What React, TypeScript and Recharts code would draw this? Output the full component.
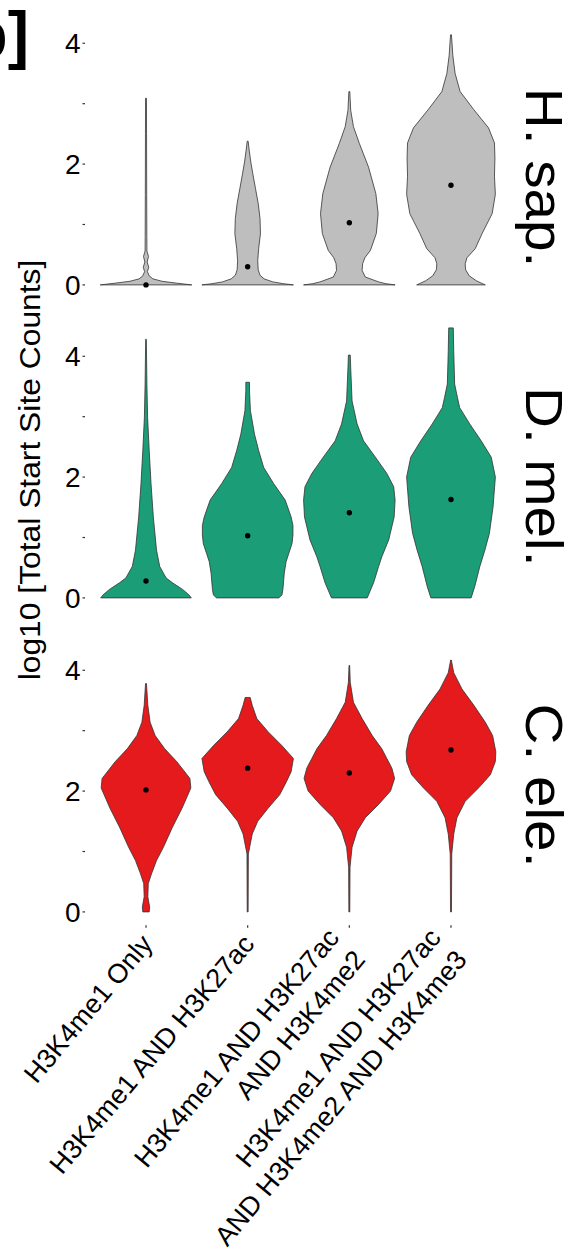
import React from 'react';
import { ScatterChart, Scatter, XAxis, YAxis } from 'recharts';

const CATEGORIES = [
  'H3K4me1 Only',
  'H3K4me1 AND H3K27ac',
  'H3K4me1 AND H3K27ac\nAND H3K4me2',
  'H3K4me1 AND H3K27ac\nAND H3K4me2 AND H3K4me3',
];

const SPECIES = ['H. sap.', 'D. mel.', 'C. ele.'];

// Violin outlines: [log10 count, half width relative to the widest violin]
const hsapOnly = [[0, 1.0], [0.03, 0.66], [0.06, 0.35], [0.1, 0.15], [0.15, 0.07], [0.22, 0.03], [0.29, 0.06], [0.38, 0.025], [0.47, 0.055], [0.56, 0.02], [0.8, 0.018], [1.5, 0.015], [2.5, 0.012], [3.09, 0.01]];
const hsapK27 = [[0, 1.0], [0.02, 0.78], [0.05, 0.55], [0.1, 0.36], [0.16, 0.27], [0.25, 0.23], [0.4, 0.22], [0.6, 0.24], [0.85, 0.28], [1.1, 0.27], [1.35, 0.23], [1.6, 0.17], [1.85, 0.11], [2.05, 0.065], [2.25, 0.03], [2.38, 0.01]];
const hsapK27Me2 = [[0, 1.0], [0.02, 0.8], [0.05, 0.64], [0.13, 0.35], [0.24, 0.28], [0.35, 0.29], [0.45, 0.34], [0.57, 0.46], [0.85, 0.59], [1.18, 0.63], [1.51, 0.58], [1.95, 0.42], [2.34, 0.22], [2.62, 0.09], [2.89, 0.03], [3.2, 0.01]];
const hsapAll = [[0, 0.75], [0.03, 0.66], [0.07, 0.55], [0.15, 0.4], [0.25, 0.32], [0.35, 0.31], [0.45, 0.35], [0.6, 0.53], [0.85, 0.68], [1.18, 0.9], [1.5, 0.97], [1.8, 0.95], [2.1, 0.96], [2.35, 0.95], [2.6, 0.82], [2.9, 0.5], [3.2, 0.2], [3.5, 0.09], [3.8, 0.04], [4.14, 0.01]];

const dmelOnly = [[0, 0.99], [0.05, 0.94], [0.14, 0.8], [0.25, 0.58], [0.33, 0.44], [0.52, 0.3], [0.79, 0.23], [1.34, 0.16], [1.89, 0.11], [2.44, 0.07], [2.99, 0.035], [3.54, 0.02], [4.28, 0.007]];
const dmelK27 = [[0, 0.68], [0.05, 0.75], [0.14, 0.77], [0.41, 0.8], [0.6, 0.84], [0.74, 0.9], [0.9, 0.97], [1.04, 0.99], [1.2, 0.99], [1.34, 0.95], [1.62, 0.82], [1.89, 0.57], [2.16, 0.35], [2.44, 0.24], [2.71, 0.15], [3.1, 0.06], [3.43, 0.04], [3.57, 0.04]];
const dmelK27Me2 = [[0, 0.39], [0.25, 0.53], [0.52, 0.64], [0.68, 0.71], [0.96, 0.86], [1.34, 0.98], [1.62, 1.0], [1.84, 0.97], [2.06, 0.82], [2.33, 0.57], [2.6, 0.31], [2.88, 0.17], [3.26, 0.06], [3.81, 0.03], [4.02, 0.02]];
const dmelAll = [[0, 0.44], [0.19, 0.52], [0.52, 0.63], [0.79, 0.74], [1.07, 0.84], [1.51, 0.92], [2.0, 0.97], [2.33, 0.88], [2.6, 0.66], [2.88, 0.41], [3.15, 0.19], [3.32, 0.14], [3.54, 0.08], [4.08, 0.06], [4.47, 0.05]];

const celeOnly = [[0, 0.07], [0.08, 0.08], [0.25, 0.04], [0.47, 0.05], [0.63, 0.12], [0.85, 0.23], [1.07, 0.38], [1.39, 0.57], [1.72, 0.79], [2.05, 0.98], [2.21, 0.96], [2.49, 0.67], [2.7, 0.41], [2.92, 0.2], [3.14, 0.09], [3.42, 0.04], [3.78, 0.01]];
const celeK27 = [[0, 0.01], [0.96, 0.015], [1.29, 0.1], [1.5, 0.22], [1.72, 0.45], [1.94, 0.7], [2.16, 0.85], [2.32, 0.95], [2.54, 1.0], [2.76, 0.74], [2.98, 0.45], [3.2, 0.2], [3.42, 0.1], [3.55, 0.055]];
const celeK27Me2 = [[0, 0.01], [0.74, 0.015], [1.07, 0.06], [1.34, 0.17], [1.56, 0.35], [1.78, 0.64], [2.0, 0.9], [2.21, 0.99], [2.38, 0.93], [2.54, 0.82], [2.7, 0.71], [2.92, 0.5], [3.2, 0.28], [3.47, 0.09], [3.8, 0.02], [4.08, 0.007]];
const celeAll = [[0, 0.01], [0.96, 0.017], [1.29, 0.06], [1.56, 0.13], [1.83, 0.31], [2.05, 0.6], [2.27, 0.86], [2.49, 0.97], [2.65, 0.98], [2.92, 0.91], [3.14, 0.75], [3.42, 0.5], [3.69, 0.24], [3.96, 0.06], [4.17, 0.007]];

const HSAP_MEDIANS = [0, 0.3, 1.03, 1.65];
const DMEL_MEDIANS = [0.28, 1.03, 1.41, 1.63];
const CELE_MEDIANS = [2.02, 2.38, 2.3, 2.68];

const FONT = '"Liberation Sans", Arial, Helvetica, sans-serif';
const HALF_WIDTH = 0.45; // widest violin spans 0.9 of a category
const CHART_W = 573;
const CHART_H = 1258;
const PLOT_LEFT = 85;
const PLOT_RIGHT = 512;
const PLOT_H = 297.2;
const PAD_TOP = 6;
const LABEL_ANGLE = 50;
const LABEL_SIZE = 27;
const LABEL_LINE = 34;
const STRIP_SIZE = 52;

type Profile = number[][];

// closed outline: right edge going up, left edge coming back down
const outline = (profile: Profile, pos: number) => {
  const right = profile.map(([v, w]) => ({ x: pos + w * HALF_WIDTH, y: v }));
  const left = [...profile].reverse().map(([v, w]) => ({ x: pos - w * HALF_WIDTH, y: v }));
  return [...right, ...left];
};

const NoPoint = () => <g />;
const MedianDot = (props: any) => <circle cx={props.cx} cy={props.cy} r={2.7} fill="#000" />;

// rotated, right-aligned category label; multi-line labels are centred on the tick
const XLabel = (props: any) => {
  const { x, y, payload } = props;
  const lines = CATEGORIES[payload.value - 1].split('\n');
  const mid = (lines.length - 1) / 2;
  const shift = lines.length > 1 ? -6 : 0;
  return (
    <g transform={`translate(${x + 8},${y + 17}) rotate(-${LABEL_ANGLE})`}>
      <text textAnchor="end" fontSize={LABEL_SIZE} fill="#000" fontFamily={FONT}>
        {lines.map((line, i) => (
          <tspan key={i} x={shift} y={(i - mid) * LABEL_LINE}>
            {line}
          </tspan>
        ))}
      </text>
    </g>
  );
};

interface PanelProps {
  profiles: Profile[];
  medians: number[];
  fill: string;
  top: number;
  showLabels?: boolean;
}

const Panel: React.FC<PanelProps> = ({ profiles, medians, fill, top, showLabels }) => {
  const axisH = showLabels ? 330 : 6;
  const medianData = medians.map((m, i) => ({ x: i + 1, y: m }));
  return (
    <div style={{ position: 'absolute', left: 0, top: top - PAD_TOP }}>
      <ScatterChart
        width={CHART_W}
        height={PLOT_H + PAD_TOP + axisH}
        margin={{ top: PAD_TOP, right: CHART_W - PLOT_RIGHT, bottom: 0, left: 0 }}
      >
        <XAxis
          type="number"
          dataKey="x"
          domain={[0.4, 4.6]}
          ticks={[1, 2, 3, 4]}
          allowDataOverflow
          axisLine={false}
          tickLine={{ stroke: '#333', strokeWidth: 1.2 }}
          tickSize={2.5}
          tickMargin={0}
          height={axisH}
          interval={0}
          tick={showLabels ? <XLabel /> : false}
        />
        <YAxis
          type="number"
          dataKey="y"
          domain={[-0.22, 4.7]}
          ticks={[0, 1, 2, 3, 4]}
          allowDataOverflow
          axisLine={false}
          tickLine={{ stroke: '#333', strokeWidth: 1.2 }}
          tickSize={2.5}
          tickMargin={2}
          width={PLOT_LEFT}
          interval={0}
          tickFormatter={(v: number) => (v % 2 === 0 ? String(v) : '')}
          tick={{ fontSize: 28, fill: '#000', fontFamily: FONT }}
        />
        {profiles.map((p, i) => (
          <Scatter
            key={i}
            data={outline(p, i + 1)}
            shape={NoPoint}
            line={{ fill, stroke: '#333', strokeWidth: 0.8 }}
            lineType="joint"
            lineJointType="linearClosed"
            isAnimationActive={false}
          />
        ))}
        <Scatter data={medianData} shape={MedianDot} isAnimationActive={false} />
      </ScatterChart>
    </div>
  );
};

// facet strip text, read top to bottom, centred on (cx, cy)
const StripLabel = ({ cx, cy, text }: { cx: number; cy: number; text: string }) => (
  <g transform={`translate(${cx},${cy}) rotate(90) scale(1.09,1)`}>
    <text x={0} y={0.358 * STRIP_SIZE} textAnchor="middle" fontSize={STRIP_SIZE} fill="#000" fontFamily={FONT}>
      {text}
    </text>
  </g>
);

export default function App() {
  return (
    <div
      style={{
        position: 'absolute',
        left: 0,
        top: 0,
        width: CHART_W,
        height: CHART_H,
        background: '#fff',
        overflow: 'hidden',
        fontFamily: FONT,
      }}
    >
      <Panel profiles={[hsapOnly, hsapK27, hsapK27Me2, hsapAll]} medians={HSAP_MEDIANS} fill="#bebebe" top={0.6} />
      <Panel profiles={[dmelOnly, dmelK27, dmelK27Me2, dmelAll]} medians={DMEL_MEDIANS} fill="#1b9e77" top={314.4} />
      <Panel profiles={[celeOnly, celeK27, celeK27Me2, celeAll]} medians={CELE_MEDIANS} fill="#e41a1c" top={627.8} showLabels />

      <svg width={CHART_W} height={CHART_H} style={{ position: 'absolute', left: 0, top: 0, pointerEvents: 'none' }}>
        <StripLabel cx={544.5} cy={177.5} text={SPECIES[0]} />
        <StripLabel cx={544.5} cy={476.7} text={SPECIES[1]} />
        <StripLabel cx={545} cy={785.5} text={SPECIES[2]} />

        <g transform="translate(29.5,470) rotate(-90) scale(1.06,1)">
          <text x={0} y={0.358 * 30} textAnchor="middle" fontSize={30} fill="#000" fontFamily={FONT}>
            log10 [Total Start Site Counts]
          </text>
        </g>

        <text x={29} y={57} textAnchor="end" fontSize={64} fontWeight="bold" fontFamily={FONT}>
          b]
        </text>
      </svg>
    </div>
  );
}
